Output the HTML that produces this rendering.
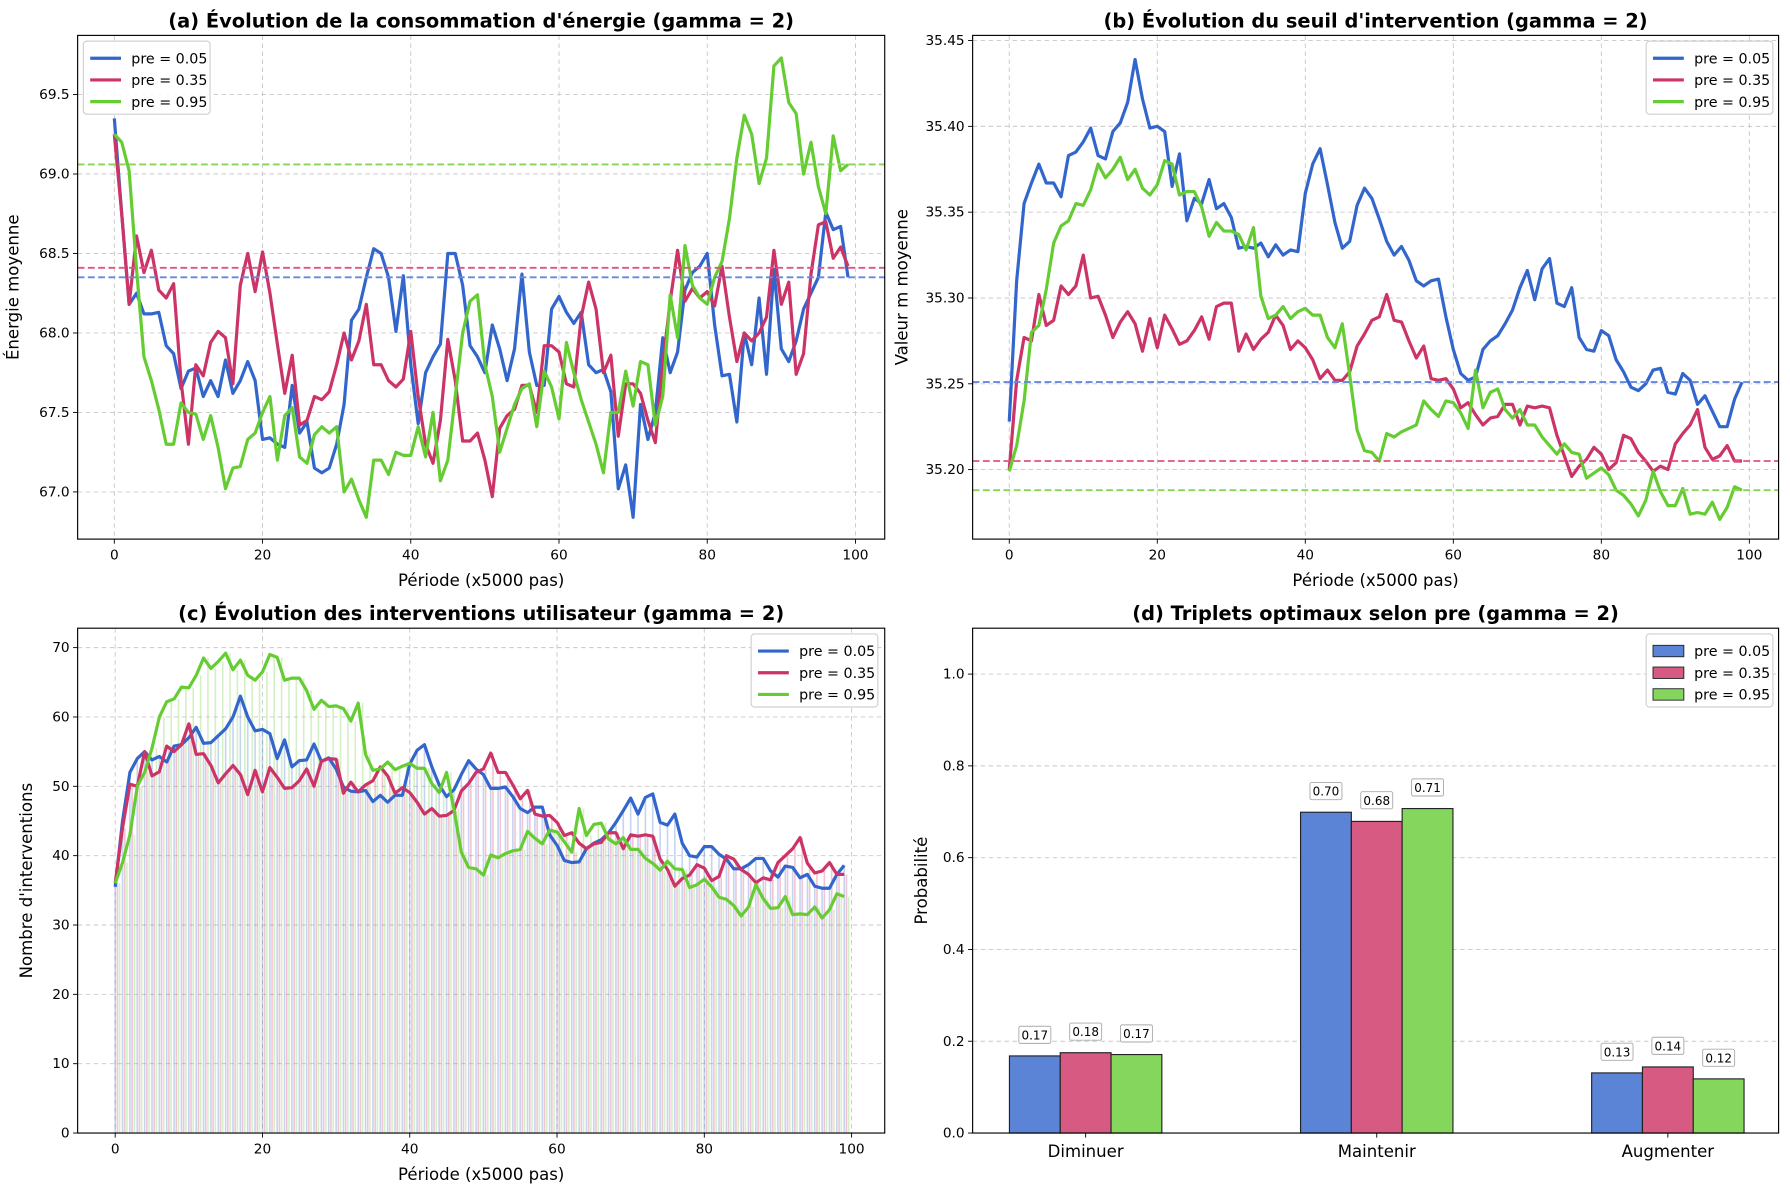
<!DOCTYPE html>
<html><head><meta charset="utf-8">
<style>
html,body{margin:0;padding:0;background:#fff;}
svg{display:block;font-family:"DejaVu Sans","Liberation Sans",sans-serif;}
</style></head>
<body>
<svg id="fig" width="1790" height="1189" viewBox="0 0 1568 1041" preserveAspectRatio="none" xmlns="http://www.w3.org/2000/svg"></svg>
<script>
const periods = Array.from({length:100},(_,i)=>i);
const seriesLabels = ["pre = 0.05","pre = 0.35","pre = 0.95"];
const energyBlue = [69.35,68.75,68.18,68.25,68.12,68.12,68.13,67.92,67.87,67.65,67.76,67.78,67.60,67.70,67.60,67.83,67.62,67.70,67.82,67.70,67.33,67.34,67.30,67.28,67.67,67.37,67.44,67.15,67.12,67.15,67.30,67.55,68.08,68.15,68.35,68.53,68.50,68.35,68.01,68.36,67.80,67.43,67.75,67.85,67.93,68.50,68.50,68.30,67.92,67.85,67.75,68.05,67.90,67.70,67.90,68.37,67.88,67.67,67.67,68.15,68.23,68.13,68.06,68.13,67.80,67.75,67.77,67.63,67.02,67.17,66.84,67.55,67.33,67.50,67.97,67.75,67.88,68.27,68.38,68.42,68.50,68.05,67.73,67.74,67.44,68.00,67.80,68.22,67.74,68.40,67.90,67.82,67.95,68.15,68.25,68.35,68.76,68.65,68.67,68.35];
const energyRed = [69.25,68.75,68.18,68.61,68.38,68.52,68.27,68.22,68.31,67.70,67.30,67.80,67.73,67.94,68.01,67.97,67.68,68.30,68.50,68.26,68.51,68.25,67.93,67.62,67.86,67.42,67.45,67.60,67.58,67.63,67.80,68.00,67.83,67.95,68.18,67.80,67.80,67.70,67.66,67.71,68.01,67.60,67.30,67.18,67.45,67.96,67.70,67.32,67.32,67.37,67.20,66.97,67.40,67.48,67.52,67.67,67.67,67.50,67.92,67.92,67.88,67.68,67.66,68.10,68.32,68.15,67.75,67.86,67.35,67.68,67.68,67.62,67.45,67.31,67.80,68.20,68.52,68.20,68.28,68.22,68.26,68.17,68.42,68.10,67.82,68.00,67.95,68.00,68.10,68.52,68.18,68.32,67.74,67.87,68.37,68.68,68.70,68.47,68.54,68.42];
const energyGreen = [69.25,69.20,69.02,68.40,67.85,67.70,67.52,67.30,67.30,67.56,67.50,67.49,67.33,67.48,67.28,67.02,67.15,67.16,67.33,67.37,67.50,67.60,67.20,67.48,67.53,67.22,67.18,67.36,67.41,67.37,67.41,67.00,67.08,66.95,66.84,67.20,67.20,67.11,67.25,67.23,67.23,67.41,67.22,67.50,67.07,67.20,67.60,68.00,68.20,68.24,67.80,67.60,67.25,67.40,67.55,67.65,67.68,67.41,67.76,67.66,67.46,67.94,67.75,67.58,67.44,67.30,67.12,67.50,67.50,67.76,67.54,67.82,67.80,67.42,67.60,68.24,67.97,68.55,68.30,68.22,68.18,68.35,68.45,68.72,69.10,69.37,69.25,68.94,69.10,69.68,69.73,69.45,69.38,69.00,69.20,68.92,68.75,69.24,69.02,69.06];
const energyMeans = [68.35,68.41,69.06];
const energyTicks = [67.0,67.5,68.0,68.5,69.0,69.5];
const seuilBlue = [35.228,35.310,35.355,35.367,35.378,35.367,35.367,35.359,35.383,35.385,35.391,35.399,35.383,35.381,35.397,35.402,35.414,35.439,35.416,35.399,35.400,35.397,35.365,35.384,35.345,35.358,35.355,35.369,35.352,35.355,35.347,35.329,35.330,35.329,35.332,35.324,35.331,35.325,35.328,35.327,35.361,35.378,35.387,35.366,35.344,35.329,35.333,35.354,35.364,35.358,35.346,35.333,35.325,35.330,35.322,35.310,35.307,35.310,35.311,35.289,35.270,35.256,35.252,35.254,35.270,35.275,35.278,35.285,35.293,35.306,35.316,35.299,35.317,35.323,35.297,35.295,35.306,35.277,35.270,35.269,35.281,35.278,35.264,35.257,35.248,35.246,35.250,35.258,35.259,35.245,35.244,35.256,35.252,35.238,35.243,35.234,35.225,35.225,35.241,35.251];
const seuilRed = [35.200,35.252,35.277,35.275,35.302,35.284,35.287,35.307,35.302,35.307,35.325,35.300,35.301,35.290,35.277,35.286,35.292,35.285,35.269,35.288,35.271,35.290,35.282,35.273,35.275,35.281,35.289,35.276,35.295,35.297,35.297,35.269,35.279,35.270,35.276,35.280,35.290,35.284,35.270,35.275,35.271,35.264,35.253,35.258,35.252,35.252,35.257,35.272,35.279,35.287,35.289,35.302,35.287,35.286,35.275,35.265,35.272,35.253,35.252,35.253,35.247,35.236,35.239,35.232,35.226,35.230,35.231,35.238,35.238,35.226,35.237,35.236,35.237,35.236,35.220,35.208,35.196,35.202,35.206,35.213,35.209,35.200,35.204,35.220,35.218,35.210,35.205,35.199,35.202,35.200,35.215,35.221,35.226,35.235,35.213,35.206,35.208,35.214,35.205,35.205];
const seuilGreen = [35.199,35.214,35.240,35.280,35.284,35.305,35.332,35.342,35.345,35.355,35.354,35.363,35.378,35.370,35.375,35.382,35.369,35.375,35.364,35.360,35.366,35.380,35.378,35.360,35.362,35.362,35.353,35.336,35.344,35.339,35.339,35.337,35.328,35.341,35.301,35.288,35.290,35.295,35.288,35.292,35.294,35.290,35.290,35.277,35.271,35.285,35.255,35.223,35.211,35.210,35.205,35.221,35.219,35.222,35.224,35.226,35.240,35.235,35.231,35.240,35.239,35.233,35.224,35.258,35.236,35.245,35.247,35.235,35.230,35.235,35.226,35.226,35.219,35.214,35.209,35.215,35.210,35.209,35.195,35.198,35.201,35.197,35.188,35.185,35.180,35.173,35.182,35.199,35.187,35.179,35.179,35.189,35.174,35.175,35.174,35.181,35.171,35.178,35.190,35.188];
const seuilMeans = [35.251,35.205,35.188];
const seuilTicks = [35.20,35.25,35.30,35.35,35.40,35.45];
const intBlue = [35.5,45,52,54,55,53.8,54.3,53.5,55.8,56,57,58.5,56.2,56.3,57.3,58.3,60,63,60,58,58.2,57.6,54,56.7,52.8,53.7,53.8,56.1,53.6,54.1,52.5,49.9,49.3,49.2,49.4,47.8,48.7,47.7,48.7,48.7,53.2,55.2,56,52.8,50.2,48.5,49.5,51.7,53.7,52.5,51.7,49.7,49.7,49.9,48.5,46.8,46.2,47,47,43,41.5,39.3,39,39.1,41,41.8,42.3,43.3,44.8,46.5,48.3,46,48.4,48.9,44.8,44.4,46,41.8,40,39.8,41.3,41.3,40.2,39.5,38.1,38.1,38.7,39.6,39.6,37.8,36.9,38.5,38.3,36.8,37.3,35.6,35.3,35.3,37.3,38.6];
const intRed = [36,44,50.3,50,55,51.5,52.1,55.8,55,56,59,54.6,54.7,53,50.5,51.8,53,51.7,48.8,52.3,49.2,52.7,51.3,49.7,49.8,50.8,52.5,50,53.6,54,53.9,49,50.6,49.2,50.2,50.8,52.8,51.5,49,49.8,49.1,47.7,46,46.8,45.7,45.8,46.5,49.3,50.4,52,52.5,54.8,52,52,50.2,48.2,49.4,46,45.7,45.8,44.8,42.9,43.3,41.8,41,41.7,41.9,43.3,43.3,41,43,42.8,43,42.8,39.5,38,35.6,36.7,37.2,38.7,38.2,36.4,37,40,39.5,38,37.3,36.1,36.8,36.5,39,40,41,42.6,38.9,37.5,37.8,39,37.3,37.3];
const intGreen = [36,39,43,50,52,55.5,60,62.2,62.6,64.3,64.2,66,68.5,67,68,69.2,66.8,68.2,66,65.3,66.5,69,68.6,65.3,65.6,65.6,63.8,61.1,62.4,61.5,61.6,61.2,59.4,62,54.6,52.3,52.5,53.5,52.4,52.9,53.3,52.6,52.6,50.4,49.1,52,46.7,40.5,38.3,38.1,37.2,40.1,39.7,40.3,40.7,40.9,43.5,42.5,41.7,43.7,43.4,42,40.5,46.8,42.9,44.5,44.7,42.4,41.7,42.6,40.9,40.9,39.6,38.9,37.9,39.2,38.1,38,35.4,35.8,36.6,35.5,34,33.7,32.8,31.3,32.6,35.8,33.8,32.4,32.5,34.1,31.5,31.6,31.5,32.6,31,32.2,34.5,34.1];
const intTicks = [0,10,20,30,40,50,60,70];
const xTicks = [0,20,40,60,80,100];
const actions = ["Diminuer","Maintenir","Augmenter"];
const probBlue = [0.168,0.699,0.131];
const probRed = [0.175,0.679,0.144];
const probGreen = [0.171,0.707,0.118];
const probLabelsBlue = ["0.17","0.70","0.13"];
const probLabelsRed = ["0.18","0.68","0.14"];
const probLabelsGreen = ["0.17","0.71","0.12"];
const probTicks = [0.0,0.2,0.4,0.6,0.8,1.0];

const NS="http://www.w3.org/2000/svg";
const fig=document.getElementById('fig');
const lineCols=["#3366cc","#cc3366","#66cc33"];
const meanCols=["#6688dd","#dd5580","#88d455"];
const barCols=["#5b83d6","#d65a82","#85d65c"];
function mk(tag,attrs,parent){const e=document.createElementNS(NS,tag);for(const k in attrs)e.setAttribute(k,attrs[k]);(parent||fig).appendChild(e);return e;}
function txt(s,attrs,parent){const e=mk('text',attrs,parent);e.textContent=s;return e;}

function frame(P,yTicks,fmt,title,ylab,xlab,withX){
  const g=mk('g',{});
  
  
  const sx=v=>P.x0+(v-P.xmin)/(P.xmax-P.xmin)*(P.x1-P.x0);
  const sy=v=>P.y1-(v-P.ymin)/(P.ymax-P.ymin)*(P.y1-P.y0);
  if(withX){xTicks.forEach(t=>{mk('line',{x1:sx(t),x2:sx(t),y1:P.y0,y2:P.y1,stroke:"#c8c8c8","stroke-width":0.8,"stroke-dasharray":"4 3"},g);
    mk('line',{x1:sx(t),x2:sx(t),y1:P.y1,y2:P.y1+4,stroke:"#000","stroke-width":0.8},g);
    const l=txt(String(t),{x:sx(t),y:P.y1+18,"text-anchor":"middle","font-size":12},g);
    });}
  yTicks.forEach(t=>{mk('line',{x1:P.x0,x2:P.x1,y1:sy(t),y2:sy(t),stroke:"#c8c8c8","stroke-width":0.8,"stroke-dasharray":"4 3"},g);
    mk('line',{x1:P.x0-4,x2:P.x0,y1:sy(t),y2:sy(t),stroke:"#000","stroke-width":0.8},g);
    const l=txt(fmt(t),{x:P.x0-7,y:sy(t)+4,"text-anchor":"end","font-size":12},g);
    });
  const tt=txt(title,{x:(P.x0+P.x1)/2,y:P.y0-7,"text-anchor":"middle","font-size":17,"font-weight":"bold"},g);
  
  const yl=txt(ylab,{x:0,y:0,"text-anchor":"middle","font-size":14.5,transform:`translate(${P.x0-P.ylOff},${(P.y0+P.y1)/2}) rotate(-90)`},g);
  
  if(xlab){const xl=txt(xlab,{x:(P.x0+P.x1)/2,y:P.y1+41,"text-anchor":"middle","font-size":14.5},g);
    }
  return {g,sx,sy};
}
function border(P,g){mk('rect',{x:P.x0,y:P.y0,width:P.x1-P.x0,height:P.y1-P.y0,fill:"none",stroke:"#000","stroke-width":1},g);}
function legend(g,x,y,patch){
  const lg=mk('g',{},g);
  
  
  mk('rect',{x:x,y:y,width:111,height:64,rx:3,fill:"#fff","fill-opacity":0.85,stroke:"#d0d0d0"},lg);
  seriesLabels.forEach((s,i)=>{
    const e=mk('g',{},lg);
    
    
    const yy=y+15+i*19;
    if(patch) mk('rect',{x:x+6,y:yy-5,width:27,height:10,fill:barCols[i],stroke:"#222","stroke-width":0.8},e);
    else mk('line',{x1:x+6,x2:x+33,y1:yy,y2:yy,stroke:lineCols[i],"stroke-width":2.8},e);
    txt(s,{x:x+42,y:yy+4.5,"font-size":12.5},e);
  });
}
function lineSeries(g,sx,sy,data,col,name){
  const p=mk('polyline',{points:data.map((v,i)=>sx(periods[i])+","+sy(v)).join(" "),fill:"none",stroke:col,"stroke-width":2.8,"stroke-linejoin":"round"},g);
  
  
}
function meanLine(P,g,sy,v,col){
  const l=mk('line',{x1:P.x0,x2:P.x1,y1:sy(v),y2:sy(v),stroke:col,"stroke-width":1.6,"stroke-dasharray":"6 3"},g);
  
  
}

// Panel A
{const P={name:'energy-chart',x0:68,x1:775,y0:31,y1:472,xmin:-4.95,xmax:103.95,ymin:66.703,ymax:69.872,ylOff:52};
 const {g,sx,sy}=frame(P,energyTicks,t=>t.toFixed(1),"(a) Évolution de la consommation d'énergie (gamma = 2)","Énergie moyenne","Période (x5000 pas)",true);
 [energyBlue,energyRed,energyGreen].forEach((d,i)=>lineSeries(g,sx,sy,d,lineCols[i],'energy-line-'+i));
 energyMeans.forEach((m,i)=>meanLine(P,g,sy,m,meanCols[i]));
 border(P,g);legend(g,73,36,false);}
// Panel B
{const P={name:'threshold-chart',x0:852,x1:1558,y0:31,y1:472,xmin:-4.95,xmax:103.95,ymin:35.1595,ymax:35.4530,ylOff:57};
 const {g,sx,sy}=frame(P,seuilTicks,t=>t.toFixed(2),"(b) Évolution du seuil d'intervention (gamma = 2)","Valeur m moyenne","Période (x5000 pas)",true);
 [seuilBlue,seuilRed,seuilGreen].forEach((d,i)=>lineSeries(g,sx,sy,d,lineCols[i],'threshold-line-'+i));
 seuilMeans.forEach((m,i)=>meanLine(P,g,sy,m,meanCols[i]));
 border(P,g);legend(g,1442,36,false);}
// Panel C
{const P={name:'interventions-chart',x0:68,x1:775,y0:550,y1:992,xmin:-5.1,xmax:104.5,ymin:0,ymax:72.8,ylOff:40};
 const {g,sx,sy}=frame(P,intTicks,t=>String(t),"(c) Évolution des interventions utilisateur (gamma = 2)","Nombre d'interventions","Période (x5000 pas)",true);
 const bw=sx(0.22)-sx(0);
 [intBlue,intRed,intGreen].forEach((d,si)=>{d.forEach((v,i)=>{
   const r=mk('rect',{x:sx(periods[i]+si*0.3-0.11),y:sy(v),width:bw,height:sy(0)-sy(v),fill:barCols[si],"fill-opacity":0.35},g);
   
   });});
 [intBlue,intRed,intGreen].forEach((d,i)=>lineSeries(g,sx,sy,d,lineCols[i],'intervention-line-'+i));
 border(P,g);legend(g,658,555,false);}
// Panel D
{const P={name:'triplets-chart',x0:852,x1:1558,y0:550,y1:992,ymin:0,ymax:1.1,ylOff:40};
 const sy=v=>P.y1-(v-P.ymin)/(P.ymax-P.ymin)*(P.y1-P.y0);
 const {g}=frame(P,probTicks,t=>t.toFixed(1),"(d) Triplets optimaux selon pre (gamma = 2)","Probabilité",null,false);
 const groupX=i=>951+i*255, bw=44.5;
 actions.forEach((a,i)=>{
   mk('line',{x1:groupX(i),x2:groupX(i),y1:P.y1,y2:P.y1+4,stroke:"#000","stroke-width":0.8},g);
   const l=txt(a,{x:groupX(i),y:P.y1+21,"text-anchor":"middle","font-size":14.5},g);
   });
 [[probBlue,probLabelsBlue],[probRed,probLabelsRed],[probGreen,probLabelsGreen]].forEach(([vals,labs],si)=>{
   vals.forEach((v,i)=>{
     const cx=groupX(i)+(si-1)*bw;
     const r=mk('rect',{x:cx-bw/2,y:sy(v),width:bw,height:sy(0)-sy(v),fill:barCols[si],stroke:"#222","stroke-width":1},g);
     
     
     mk('rect',{x:cx-14,y:sy(v)-26,width:28,height:15,fill:"#fff",stroke:"#aaa","stroke-width":0.8,rx:1.5},g);
     const t=txt(labs[i],{x:cx,y:sy(v)-14.5,"text-anchor":"middle","font-size":10.5},g);
     
   });});
 border(P,g);legend(g,1442,555,true);}
</script>
</body></html>
